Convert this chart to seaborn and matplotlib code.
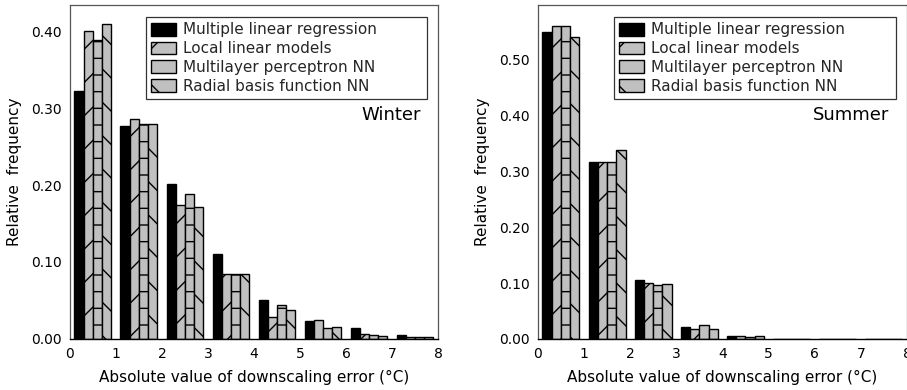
import numpy as np
import pandas as pd
import matplotlib
matplotlib.use("Agg")
import matplotlib.pyplot as plt
import seaborn as sns
from matplotlib.patches import Patch

# ---- data ----
bins = [0.5, 1.5, 2.5, 3.5, 4.5, 5.5, 6.5, 7.5]
methods = ["Multiple linear regression", "Local linear models",
           "Multilayer perceptron NN", "Radial basis function NN"]

winter_mlr = [0.322, 0.277, 0.202, 0.110, 0.050, 0.023, 0.014, 0.005]
winter_llm = [0.400, 0.286, 0.174, 0.084, 0.028, 0.024, 0.006, 0.003]
winter_mlp = [0.389, 0.280, 0.188, 0.084, 0.044, 0.014, 0.005, 0.002]
winter_rbf = [0.410, 0.280, 0.172, 0.084, 0.038, 0.016, 0.004, 0.003]

summer_mlr = [0.550, 0.317, 0.105, 0.0215, 0.006, 0.0, 0.0, 0.0]
summer_llm = [0.560, 0.317, 0.101, 0.018, 0.005, 0.0, 0.0, 0.0]
summer_mlp = [0.560, 0.317, 0.096, 0.025, 0.004, 0.0, 0.0, 0.0]
summer_rbf = [0.541, 0.338, 0.099, 0.0185, 0.005, 0.0, 0.0, 0.0]

x_ticks = [0, 1, 2, 3, 4, 5, 6, 7, 8]
winter_yticks = [0.0, 0.1, 0.2, 0.3, 0.4]
summer_yticks = [0.0, 0.1, 0.2, 0.3, 0.4, 0.5]

xlabel = "Absolute value of downscaling error (°C)"
ylabel = "Relative  frequency"


def long_df(series):
    rows = []
    for m, vals in zip(methods, series):
        for b, v in zip(bins, vals):
            rows.append({"bin": b, "method": m, "value": v})
    return pd.DataFrame(rows)


sns.set_theme(style="white")
plt.rcParams["font.family"] = ["DejaVu Sans"]
plt.rcParams["hatch.linewidth"] = 1.0
plt.rcParams["hatch.color"] = "black"

palette = ["#000000", "#c0c0c0", "#c0c0c0", "#c0c0c0"]
hatches = ["", "/", "-", "\\"]

fig = plt.figure(figsize=(9.07, 3.90), dpi=100)
ax1 = fig.add_axes([0.077, 0.131, 0.406, 0.856])
ax2 = fig.add_axes([0.593, 0.131, 0.407, 0.856])

panels = [
    (ax1, [winter_mlr, winter_llm, winter_mlp, winter_rbf], winter_yticks, 0.434, "Winter"),
    (ax2, [summer_mlr, summer_llm, summer_mlp, summer_rbf], summer_yticks, 0.598, "Summer"),
]

for ax, series, yt, ymax, title in panels:
    df = long_df(series)
    sns.barplot(data=df, x="bin", y="value", hue="method", hue_order=methods,
                palette=palette, native_scale=True, width=0.8, dodge=True,
                edgecolor="black", linewidth=1.0, saturation=1, ax=ax,
                legend=False, errorbar=None)
    for cont, h in zip(ax.containers, hatches):
        for bar in cont:
            bar.set_hatch(h)
    ax.set_xlim(0, 8)
    ax.set_ylim(0, ymax)
    ax.set_xticks(x_ticks)
    ax.set_xticklabels([str(t) for t in x_ticks])
    ax.set_yticks(yt)
    ax.set_yticklabels([f"{t:.2f}" for t in yt])
    ax.tick_params(axis="x", direction="in", length=3, width=0.8, colors="black",
                   labelsize=10, pad=6)
    ax.tick_params(axis="y", direction="out", length=4, width=0.8, colors="black",
                   labelsize=10, pad=2)
    ax.set_xlabel(xlabel, fontsize=11, color="black", labelpad=6)
    ax.set_ylabel(ylabel, fontsize=11, color="black", labelpad=6)
    for s in ["left", "top", "right"]:
        ax.spines[s].set_color("#555555")
        ax.spines[s].set_linewidth(0.9)
    ax.spines["bottom"].set_color("black")
    ax.spines["bottom"].set_linewidth(1.0)
    ax.text(0.953, 0.67, title, transform=ax.transAxes, ha="right", va="center",
            fontsize=13, color="black")
    handles = [Patch(facecolor=c, edgecolor="black", hatch=h, linewidth=1.0, label=m)
               for c, h, m in zip(palette, hatches, methods)]
    leg = ax.legend(handles=handles, loc="upper left",
                    bbox_to_anchor=(0.2065, 0.964, 0.764, 0.0), mode="expand",
                    fontsize=11, frameon=True, fancybox=False, handlelength=1.63,
                    handleheight=0.92, handletextpad=0.45, labelspacing=0.25,
                    borderpad=0.35, borderaxespad=0.0)
    leg.get_frame().set_edgecolor("black")
    leg.get_frame().set_linewidth(0.9)

fig.savefig("out.png", dpi=100)
